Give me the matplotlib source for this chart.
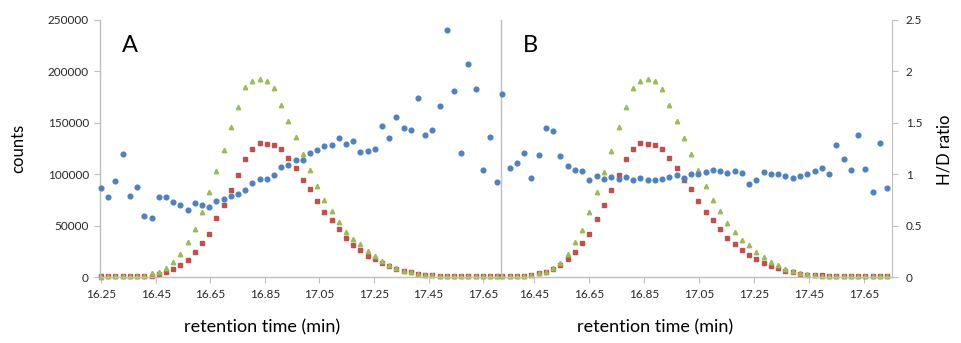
import matplotlib
matplotlib.use('Agg')
import matplotlib.pyplot as plt
import numpy as np

plt.rcParams['font.family'] = ['Lato', 'DejaVu Sans']

# scan grid (min)
start_a = 16.25
start_b = 16.335
scan_step = 0.0264

# panel A: counts of the two isotopologues and H/D ratio
heavy_a = [500, 500, 500, 1000, 1000, 1000, 1000, 1300, 3200, 4500,
           7800, 12000, 16500, 24600, 33400, 41800, 57000, 69700, 85000, 99400,
           114600, 124700, 130800, 129500, 128200, 124700, 115300, 106500, 94200, 85200,
           73800, 63100, 55000, 46300, 37500, 31400, 26200, 20700, 17200, 13900,
           10400, 7800, 5500, 4500, 2900, 1900, 1600, 1300, 1000, 800,
           700, 600, 600, 600, 600, 600]
light_a = [300, 500, 500, 500, 500, 500, 1300, 3600, 5200, 8400,
           14600, 22700, 34000, 46400, 62900, 82400, 102800, 123600, 146300, 165500,
           184600, 190700, 192700, 190700, 183600, 167700, 152200, 136300, 120100, 104300,
           89000, 75100, 64400, 53400, 44000, 36600, 32100, 24900, 20700, 15500,
           11300, 8400, 5800, 4500, 3200, 1900, 1600, 1300, 1000, 800,
           700, 600, 600, 500, 500, 500]
ratio_a = [0.87, 0.78, 0.93, 1.20, 0.79, 0.88, 0.59, 0.57, 0.78, 0.78,
           0.73, 0.70, 0.65, 0.72, 0.70, 0.68, 0.74, 0.76, 0.79, 0.81,
           0.85, 0.91, 0.95, 0.95, 0.99, 1.07, 1.09, 1.14, 1.14, 1.21,
           1.24, 1.27, 1.28, 1.35, 1.29, 1.32, 1.22, 1.23, 1.25, 1.47,
           1.35, 1.56, 1.45, 1.43, 1.74, 1.38, 1.43, 1.66, 2.40, 1.81,
           1.21, 2.07, 1.83, 1.04, 1.36, 0.92]

# panel B
heavy_b = [1000, 1000, 1000, 1000, 1600, 3600, 4900, 8100, 12000, 17200,
           24600, 33400, 42100, 56700, 69600, 84800, 99400, 114600, 124700, 130500,
           129500, 128200, 124700, 115300, 106500, 93900, 85200, 73800, 63100, 55000,
           46300, 37600, 31700, 26600, 21000, 17200, 13600, 10700, 8400, 5800,
           4500, 3200, 1900, 1600, 1600, 1000, 1000, 800, 800, 700,
           600, 600, 500, 500]
light_b = [1000, 1000, 1000, 1000, 1600, 3600, 5200, 8400, 13900, 22300,
           34000, 46000, 63100, 82200, 102600, 122700, 145700, 165100, 183900, 190400,
           192300, 190400, 183300, 167100, 151500, 135700, 119800, 103600, 88100, 74800,
           64100, 52400, 43700, 36300, 31400, 24300, 19800, 14900, 11300, 8100,
           5500, 4200, 2600, 1600, 1300, 1000, 1000, 800, 800, 700,
           600, 600, 500, 500]
ratio_b = [1.78, 1.06, 1.11, 1.21, 0.96, 1.19, 1.45, 1.42, 1.18, 1.08,
           1.04, 1.03, 0.94, 0.98, 0.95, 0.97, 0.95, 0.97, 0.94, 0.96,
           0.94, 0.94, 0.95, 0.97, 0.99, 0.96, 1.00, 1.00, 1.02, 1.04,
           1.03, 1.01, 1.03, 1.01, 0.90, 0.94, 1.02, 1.00, 1.00, 0.98,
           0.96, 0.98, 1.00, 1.03, 1.06, 1.00, 1.28, 1.15, 1.04, 1.38,
           1.05, 0.83, 1.30, 0.87]

ticks_a = [16.25, 16.45, 16.65, 16.85, 17.05, 17.25, 17.45, 17.65]
ticks_b = [16.45, 16.65, 16.85, 17.05, 17.25, 17.45, 17.65]
count_ticks = [0, 50000, 100000, 150000, 200000, 250000]
ratio_ticks = [0, 0.5, 1, 1.5, 2, 2.5]

RED = '#C0504D'
GREEN = '#9BBB59'
BLUE = '#4F81BD'
GRID = '#BFBFBF'
TXT = '#262626'


def panel(fig, rect, xlim, xticks, t, heavy, light, ratio, letter):
    """One half of the chart: counts on ax, ratio on a twin axis

    """
    ax = fig.add_axes(rect)
    ax.plot(t, heavy, ls='none', marker='s', ms=3.2, color=RED, mec=RED, clip_on=False)
    ax.plot(t, light, ls='none', marker='^', ms=3.2, color=GREEN, mec=GREEN, clip_on=False)
    ax.set_xlim(*xlim)
    ax.set_ylim(0, 250000)
    ax.set_xticks(xticks)
    ax.set_xticklabels(['%.2f' % v for v in xticks])
    for s in ['top', 'right']:
        ax.spines[s].set_visible(False)
    for s in ['left', 'bottom']:
        ax.spines[s].set_color(GRID)
        ax.spines[s].set_linewidth(1.0)
    ax.tick_params(axis='x', direction='out', length=4, color=GRID,
                   labelsize=8.5, labelcolor=TXT, pad=5)
    ax.text(0.075, 0.9, letter, transform=ax.transAxes, fontsize=17,
            ha='center', va='center', color='black')

    ax2 = ax.twinx()
    ax2.plot(t, ratio, ls='none', marker='o', ms=3.4, color=BLUE, mec=BLUE, clip_on=False)
    ax2.set_ylim(0, 2.5)
    for s in ['top', 'left', 'bottom', 'right']:
        ax2.spines[s].set_visible(False)
    return ax, ax2


fig = plt.figure(figsize=(9.61, 3.43), dpi=100)

bottom = 66 / 343
height = 257 / 343
t_a = start_a + scan_step * np.arange(len(heavy_a))
t_b = start_b + scan_step * np.arange(len(heavy_b))

axA, axA2 = panel(fig, [100 / 961, bottom, 400 / 961, height],
                  (16.246, 17.712), ticks_a, t_a, heavy_a, light_a, ratio_a, 'A')
axB, axB2 = panel(fig, [500.7 / 961, bottom, 391.3 / 961, height],
                  (16.329, 17.752), ticks_b, t_b, heavy_b, light_b, ratio_b, 'B')

# left axis: counts
axA.set_yticks(count_ticks)
axA.set_yticklabels([str(v) for v in count_ticks])
axA.tick_params(axis='y', direction='out', length=4, color=GRID,
                labelsize=8.5, labelcolor=TXT, pad=4)
axA2.set_yticks([])

# divider between panels, no ticks
axB.set_yticks([])
axB2.spines['right'].set_visible(True)
axB2.spines['right'].set_color(GRID)
axB2.set_yticks(ratio_ticks)
axB2.set_yticklabels(['0', '0.5', '1', '1.5', '2', '2.5'])
axB2.tick_params(axis='y', direction='out', length=4, color=GRID,
                 labelsize=8.5, labelcolor=TXT, pad=6)

fig.text(18 / 961, 1 - 148 / 343, 'counts', rotation=90, fontsize=12,
         ha='center', va='center', color='black')
fig.text(945 / 961, 1 - 150 / 343, 'H/D ratio', rotation=90, fontsize=12,
         ha='center', va='center', color='black')
fig.text(262 / 961, 1 - 327 / 343, 'retention time (min)', fontsize=13,
         ha='center', va='center', color='black')
fig.text(655 / 961, 1 - 327 / 343, 'retention time (min)', fontsize=13,
         ha='center', va='center', color='black')

fig.savefig('out.png', dpi=100)
